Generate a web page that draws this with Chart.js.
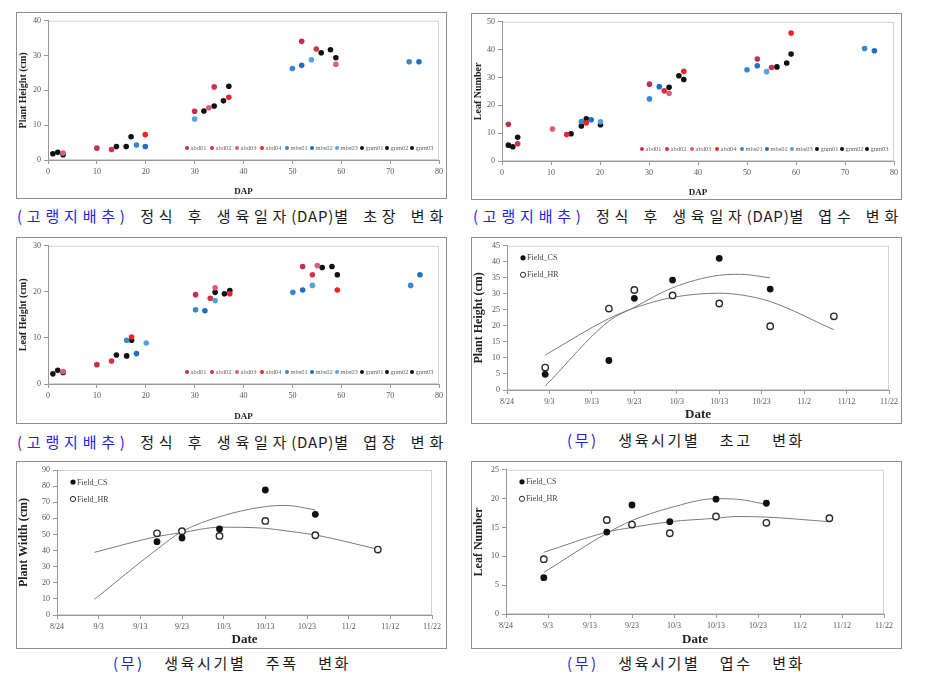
<!DOCTYPE html>
<html>
<head>
<meta charset="utf-8">
<script src="https://cdn.jsdelivr.net/npm/chart.js@4/dist/chart.umd.min.js"></script>
<style>
body{margin:0;width:925px;height:674px;background:#fff;position:relative;overflow:hidden}
.box{position:absolute;border:1px solid #8e8e8e;box-sizing:border-box;background:#fff}
.box canvas{display:block}
.cap{position:absolute;font-family:"Noto Sans CJK KR";font-size:15px;line-height:20px;color:#1a1a1a;white-space:nowrap;text-align:justify;text-align-last:justify;letter-spacing:2.6px}
.cap b{font-weight:normal;color:#2323e6}
.wide{letter-spacing:4.8px}
.lat{letter-spacing:0.8px}
</style>
</head>
<body>
<div class="cap wide" style="left:17px;top:206px;width:431px"><b>(고랭지배추)</b> 정식 후 생육일자<span class="lat">(DAP)</span>별 초장 변화</div>
<div class="cap wide" style="left:473px;top:206px;width:430px"><b>(고랭지배추)</b> 정식 후 생육일자<span class="lat">(DAP)</span>별 엽수 변화</div>
<div class="cap wide" style="left:17px;top:432px;width:431px"><b>(고랭지배추)</b> 정식 후 생육일자<span class="lat">(DAP)</span>별 엽장 변화</div>
<div class="cap" style="left:567px;top:430px;width:238px"><b>(무)</b> 생육시기별 초고 변화</div>
<div class="cap" style="left:113px;top:653px;width:238px"><b>(무)</b> 생육시기별 주폭 변화</div>
<div class="cap" style="left:567px;top:653px;width:238px"><b>(무)</b> 생육시기별 엽수 변화</div>
<script>
// sites of the cabbage survey
const siteNames = ['abd01','abd02','abd03','abd04','mbs01','mbs02','mbs03','gnm01','gnm02','gnm03'];
const siteColors = ['#c52f4b','#cf3346','#de5c78','#ec2424','#3b87c9','#2070c2','#58a1df','#111111','#111111','#111111'];

// plant height by DAP
const phDap  = [10,30,51.9, 13,34,54.9, 3.1,32.9,58.9, 19.9,37, 18.1,50,73.9, 19.9,51.9,75.9, 30,53.9, 1,14,31.9,55.9, 2,16,34,57.8, 3.1,17,35.9,58.9,37];
const phVal  = [3.4,14.0,34.1, 3.0,21.0,31.9, 2.0,15.0,27.5, 7.3,18.0, 4.3,26.3,28.2, 3.9,27.2,28.2, 11.8,28.8, 1.8,3.9,14.1,30.8, 2.2,3.9,15.5,31.7, 1.5,6.7,17.0,29.4,21.2];
const phSite = [0,0,0, 1,1,1, 2,2,2, 3,3, 4,4,4, 5,5,5, 6,6, 7,7,7,7, 8,8,8,8, 9,9,9,9,9];

// leaf number by DAP
const lnDap  = [1.3,30.1,52.1, 3.2,33.1,55.0, 10.3,34.1, 13.2,17.2,37.1,59.0, 16.2,30.1,50.0,74.0, 18.2,32.1,52.1,76.0, 20.1,54.0, 1.3,14.1,34.1,56.1, 2.2,16.2,36.1,58.1, 3.2,17.2,20.1,37.1,59.0];
const lnVal  = [13.2,27.6,36.6, 6.2,25.2,33.6, 11.5,24.3, 9.5,13.7,32.2,46.0, 14.2,22.3,32.8,40.4, 14.8,26.7,34.2,39.6, 14.1,32.1, 5.7,9.8,26.5,33.8, 5.1,12.6,30.6,35.2, 8.5,15.2,13.0,29.3,38.4];
const lnSite = [0,0,0, 1,1,1, 2,2, 3,3,3,3, 4,4,4,4, 5,5,5,5, 6,6, 7,7,7,7, 8,8,8,8, 9,9,9,9,9];

// leaf height by DAP
const lhDap  = [10,30.2,52.1, 13,33.2,54.1, 3.1,34.2,55.1, 17.1,37.2,59.2, 16.1,30.2,50.1,74.2, 18.1,32.1,52.1,76.1, 20.1,34.2,54.1, 1,14,34.2,56.1, 2,16.1,36.1,58.1, 3.1,17.1,37.2,59.2];
const lhVal  = [4.2,19.4,25.5, 5.0,18.6,23.7, 2.7,20.9,25.7, 10.2,19.6,20.4, 9.5,16.1,19.9,21.4, 6.6,15.9,20.4,23.7, 8.9,18.1,21.4, 2.2,6.3,19.9,25.3, 3.0,6.1,19.6,25.5, 2.5,9.5,20.3,23.7];
const lhSite = [0,0,0, 1,1,1, 2,2,2, 3,3,3, 4,4,4,4, 5,5,5,5, 6,6,6, 7,7,7,7, 8,8,8,8, 9,9,9,9];

// radish survey dates and values
const fieldDates = ['9/2','9/17','9/23','10/2','10/13','10/25','11/9'];
const heightCS = [4.9, 9.2, 28.6, 34.3, 41.1, 31.5, null];
const heightHR = [7.0, 25.4, 31.2, 29.5, 27.0, 19.9, 23.0];
const widthCS  = [null, 45.5, 47.8, 53.4, 77.6, 62.5, null];
const widthHR  = [null, 50.7, 52.0, 49.1, 58.4, 49.5, 40.6];
const leafCS   = [6.3, 14.2, 18.9, 16.0, 19.9, 19.2, null];
const leafHR   = [9.5, 16.3, 15.5, 14.0, 16.9, 15.8, 16.6];

// trend curves
const trendDates = ['9/2','9/17','9/23','10/2','10/13','10/18','10/25','11/9'];
const heightCSTrend = [1.2, 21.5, 25.8, 31.9, 35.8, 36.1, 35.0, null];
const heightHRTrend = [10.9, 22.3, 25.6, 28.9, 30.2, 29.7, 27.6, 18.8];
const widthCSTrend  = [9.7, 40.8, 51.8, 61.0, 67.3, 68.0, 65.2, null];
const widthHRTrend  = [38.9, 48.7, 51.1, 54.5, 53.8, 52.2, 49.7, 40.8];
const leafCSTrend   = [7.2, 14.0, 16.2, 18.4, 20.0, 19.9, 19.0, null];
const leafHRTrend   = [10.7, 14.2, 15.0, 16.0, 16.6, 16.9, 16.8, 16.0];

const dateTicks = ['8/24','9/3','9/13','9/23','10/3','10/13','10/23','11/2','11/12','11/22'];

function dayOf(s){
    const [m, d] = s.split('/').map(Number);
    const monthStart = {8:0, 9:31, 10:61, 11:92};
    return monthStart[m] + d - 24;
}

const serif = 'Liberation Serif';

const frame = {
    id: 'frame',
    beforeDraw(chart){
        const a = chart.chartArea, c = chart.ctx;
        c.save();
        c.strokeStyle = '#d2d2d2';
        c.lineWidth = 1;
        c.strokeRect(a.left + 0.5, a.top + 0.5, a.width - 1, a.height - 1);
        c.restore();
    }
};

const insideLegend = {
    id: 'insideLegend',
    afterDatasetsDraw(chart, args, o){
        const c = chart.ctx, a = chart.chartArea;
        let x = o.fromRight ? a.right - o.x : a.left + o.x;
        let y = o.fromBottom ? a.bottom - o.y : a.top + o.y;
        c.save();
        c.font = o.font;
        c.textBaseline = 'middle';
        chart.data.datasets.filter(d => d.legend).forEach(d => {
            c.beginPath();
            c.arc(x, y, o.r, 0, Math.PI * 2);
            c.fillStyle = d.backgroundColor;
            c.fill();
            if(d.pointBorderWidth){
                c.lineWidth = 1;
                c.strokeStyle = d.borderColor;
                c.stroke();
            }
            c.fillStyle = o.color;
            c.fillText(d.label, x + o.r + 1.5, y + 0.5);
            x += o.dx;
            y += o.dy;
        });
        c.restore();
    }
};

function siteSets(dap, val, site){
    return siteNames.map((name, i) => ({
        label: name,
        legend: true,
        showLine: false,
        data: dap.map((x, k) => ({x: x, y: val[k], s: site[k]})).filter(p => p.s === i),
        backgroundColor: siteColors[i],
        borderColor: siteColors[i],
        pointRadius: 2.8,
        pointBorderWidth: 0
    }));
}

function fieldSets(cs, hr, csTrend, hrTrend){
    const pts = (arr, dates) => dates.map((d, k) => ({x: dayOf(d), y: arr[k]})).filter(p => p.y !== null);
    const trend = arr => ({
        label: 'trend', showLine: true, data: pts(arr, trendDates),
        borderColor: '#7b7b7b', borderWidth: 1, pointRadius: 0,
        cubicInterpolationMode: 'monotone', fill: false
    });
    return [
        {label: 'Field_CS', legend: true, showLine: false, data: pts(cs, fieldDates),
         backgroundColor: '#111', borderColor: '#111', pointRadius: 3.4, pointBorderWidth: 0},
        {label: 'Field_HR', legend: true, showLine: false, data: pts(hr, fieldDates),
         backgroundColor: '#fff', borderColor: '#2a2a2a', pointRadius: 3.2, pointBorderWidth: 1.4},
        trend(csTrend),
        trend(hrTrend)
    ];
}

function makeChart(box, plot, opt){
    const holder = document.createElement('div');
    holder.className = 'box';
    holder.style.cssText = `left:${box[0]}px;top:${box[1]}px;width:${box[2]}px;height:${box[3]}px`;
    const cv = document.createElement('canvas');
    const cw = box[2] - 2, ch = box[3] - 2;
    cv.width = cw; cv.height = ch;
    cv.style.width = cw + 'px'; cv.style.height = ch + 'px';
    holder.appendChild(cv);
    document.body.appendChild(holder);
    const ox = box[0] + 1, oy = box[1] + 1;
    const yW = plot[0] - ox, xH = oy + ch - plot[3];
    new Chart(cv.getContext('2d'), {
        type: 'scatter',
        data: {datasets: opt.datasets},
        plugins: [frame, insideLegend],
        options: {
            responsive: false,
            animation: false,
            devicePixelRatio: 1,
            layout: {padding: {left: 0, top: plot[1] - oy, right: ox + cw - plot[2], bottom: 0}},
            plugins: {legend: {display: false}, tooltip: {enabled: false}, insideLegend: opt.legend},
            scales: {
                x: {
                    type: 'linear', min: opt.xMin, max: opt.xMax,
                    afterFit: s => { s.height = xH; },
                    ticks: {stepSize: 10, autoSkip: false, maxRotation: 0, padding: opt.xPad,
                            font: {family: serif, size: 8}, color: '#555', callback: opt.xCb},
                    grid: {drawOnChartArea: false, tickLength: 4, color: '#999'},
                    border: {color: '#999'},
                    title: {display: true, text: opt.xTitle, color: '#222', padding: {top: 0, bottom: 1},
                            font: {family: serif, size: opt.xTitleSize, weight: 'bold'}}
                },
                y: {
                    min: opt.yMin, max: opt.yMax,
                    afterFit: s => { s.width = yW; },
                    ticks: {stepSize: opt.yStep, padding: 3, font: {family: serif, size: 8}, color: '#555'},
                    grid: {drawOnChartArea: false, tickLength: 4, color: '#999'},
                    border: {color: '#999'},
                    title: {display: true, text: opt.yTitle, color: '#222', padding: {top: 0, bottom: 0},
                            font: {family: serif, size: opt.yTitleSize, weight: 'bold'}}
                }
            }
        }
    });
}

const dapLegend = {fromRight: true, fromBottom: true, x: 252, y: 12, dx: 25, dy: 0, r: 2,
                   font: `6.5px "${serif}"`, color: '#666'};
const fieldLegend = {fromRight: false, fromBottom: false, x: 16, y: 12, dx: 0, dy: 17, r: 2.6,
                     font: `8px "${serif}"`, color: '#444'};
const dateCb = (v, i) => dateTicks[i];

makeChart([16, 12, 431, 187], [48, 20, 439, 160], {
    datasets: siteSets(phDap, phVal, phSite), legend: dapLegend,
    xMin: 0, xMax: 80, xTitle: 'DAP', xTitleSize: 9, xPad: 3,
    yMin: 0, yMax: 40, yStep: 10, yTitle: 'Plant Height (cm)', yTitleSize: 10
});
makeChart([471, 13, 431, 187], [502, 21, 897, 161], {
    datasets: siteSets(lnDap, lnVal, lnSite), legend: dapLegend,
    xMin: 0, xMax: 80, xTitle: 'DAP', xTitleSize: 9, xPad: 3,
    yMin: 0, yMax: 50, yStep: 10, yTitle: 'Leaf Number', yTitleSize: 10
});
makeChart([16, 237, 431, 187], [48, 245, 442, 384], {
    datasets: siteSets(lhDap, lhVal, lhSite), legend: dapLegend,
    xMin: 0, xMax: 80, xTitle: 'DAP', xTitleSize: 9, xPad: 3,
    yMin: 0, yMax: 30, yStep: 10, yTitle: 'Leaf Height (cm)', yTitleSize: 10
});
makeChart([471, 237, 431, 187], [507, 243, 894, 390], {
    datasets: fieldSets(heightCS, heightHR, heightCSTrend, heightHRTrend), legend: fieldLegend,
    xMin: 0, xMax: 90, xTitle: 'Date', xTitleSize: 13, xPad: 3, xCb: dateCb,
    yMin: 0, yMax: 45, yStep: 5, yTitle: 'Plant Height (cm)', yTitleSize: 12
});
makeChart([16, 461, 431, 188], [57, 470, 432, 615], {
    datasets: fieldSets(widthCS, widthHR, widthCSTrend, widthHRTrend), legend: fieldLegend,
    xMin: 0, xMax: 90, xTitle: 'Date', xTitleSize: 13, xPad: 3, xCb: dateCb,
    yMin: 0, yMax: 90, yStep: 10, yTitle: 'Plant Width (cm)', yTitleSize: 12
});
makeChart([471, 461, 431, 188], [506, 468, 884, 614], {
    datasets: fieldSets(leafCS, leafHR, leafCSTrend, leafHRTrend), legend: fieldLegend,
    xMin: 0, xMax: 90, xTitle: 'Date', xTitleSize: 13, xPad: 3, xCb: dateCb,
    yMin: 0, yMax: 25, yStep: 5, yTitle: 'Leaf Number', yTitleSize: 12
});
</script>
</body>
</html>
